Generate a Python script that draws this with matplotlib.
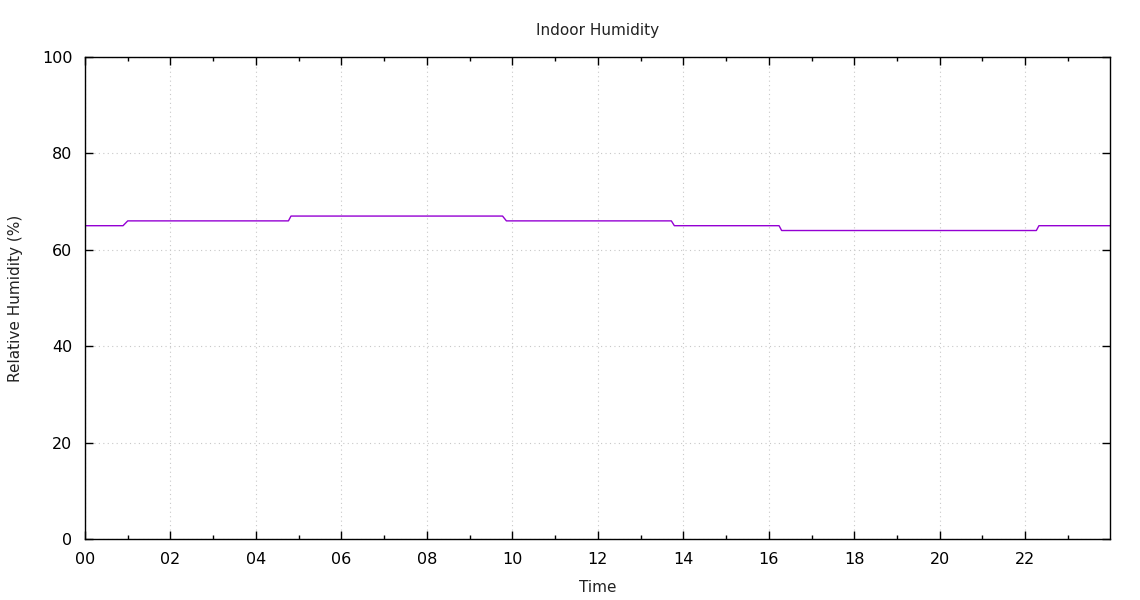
import matplotlib
matplotlib.use('Agg')
import matplotlib.pyplot as plt
from matplotlib.ticker import MultipleLocator, FuncFormatter

# hours of day and indoor relative humidity (%)
hours = [0.0, 0.89, 1.0, 4.76, 4.82, 9.77, 9.86, 13.72, 13.79, 16.24, 16.30, 22.26, 22.32, 23.98]
humidity = [65, 65, 66, 66, 67, 67, 66, 66, 65, 65, 64, 64, 65, 65]
x_ticks = [0, 2, 4, 6, 8, 10, 12, 14, 16, 18, 20, 22]
y_ticks = [0, 20, 40, 60, 80, 100]

plt.rcParams['font.family'] = ['DejaVu Sans']
fig = plt.figure(figsize=(11.4, 6), dpi=100)
ax = fig.add_axes([85/1140, 61/600, 1025/1140, 482/600])

ax.plot(hours, humidity, color='#9400d3', lw=1.0)

ax.set_xlim(0, 24 - 1/60)
ax.set_ylim(0, 100)
ax.set_xticks(x_ticks)
ax.xaxis.set_minor_locator(MultipleLocator(1))
ax.set_yticks(y_ticks)
ax.xaxis.set_major_formatter(FuncFormatter(lambda v, p: '%02d' % int(round(v))))

ax.grid(True, which='major', color='#c8c8c8', linestyle=(0, (1, 3)), lw=0.8)
ax.tick_params(which='both', direction='in', top=True, right=True, labelsize=11.5, colors='black', pad=9)
ax.tick_params(which='major', length=6, width=1)
ax.tick_params(which='minor', length=3, width=1)
for s in ax.spines.values():
    s.set_linewidth(1.0)

ax.set_title('Indoor Humidity', fontsize=11, pad=16, color='#222222')
ax.set_xlabel('Time', fontsize=11, labelpad=10, color='#222222')
ax.set_ylabel('Relative Humidity (%)', fontsize=11, labelpad=14, color='#222222')

fig.savefig('out.png', dpi=100)
